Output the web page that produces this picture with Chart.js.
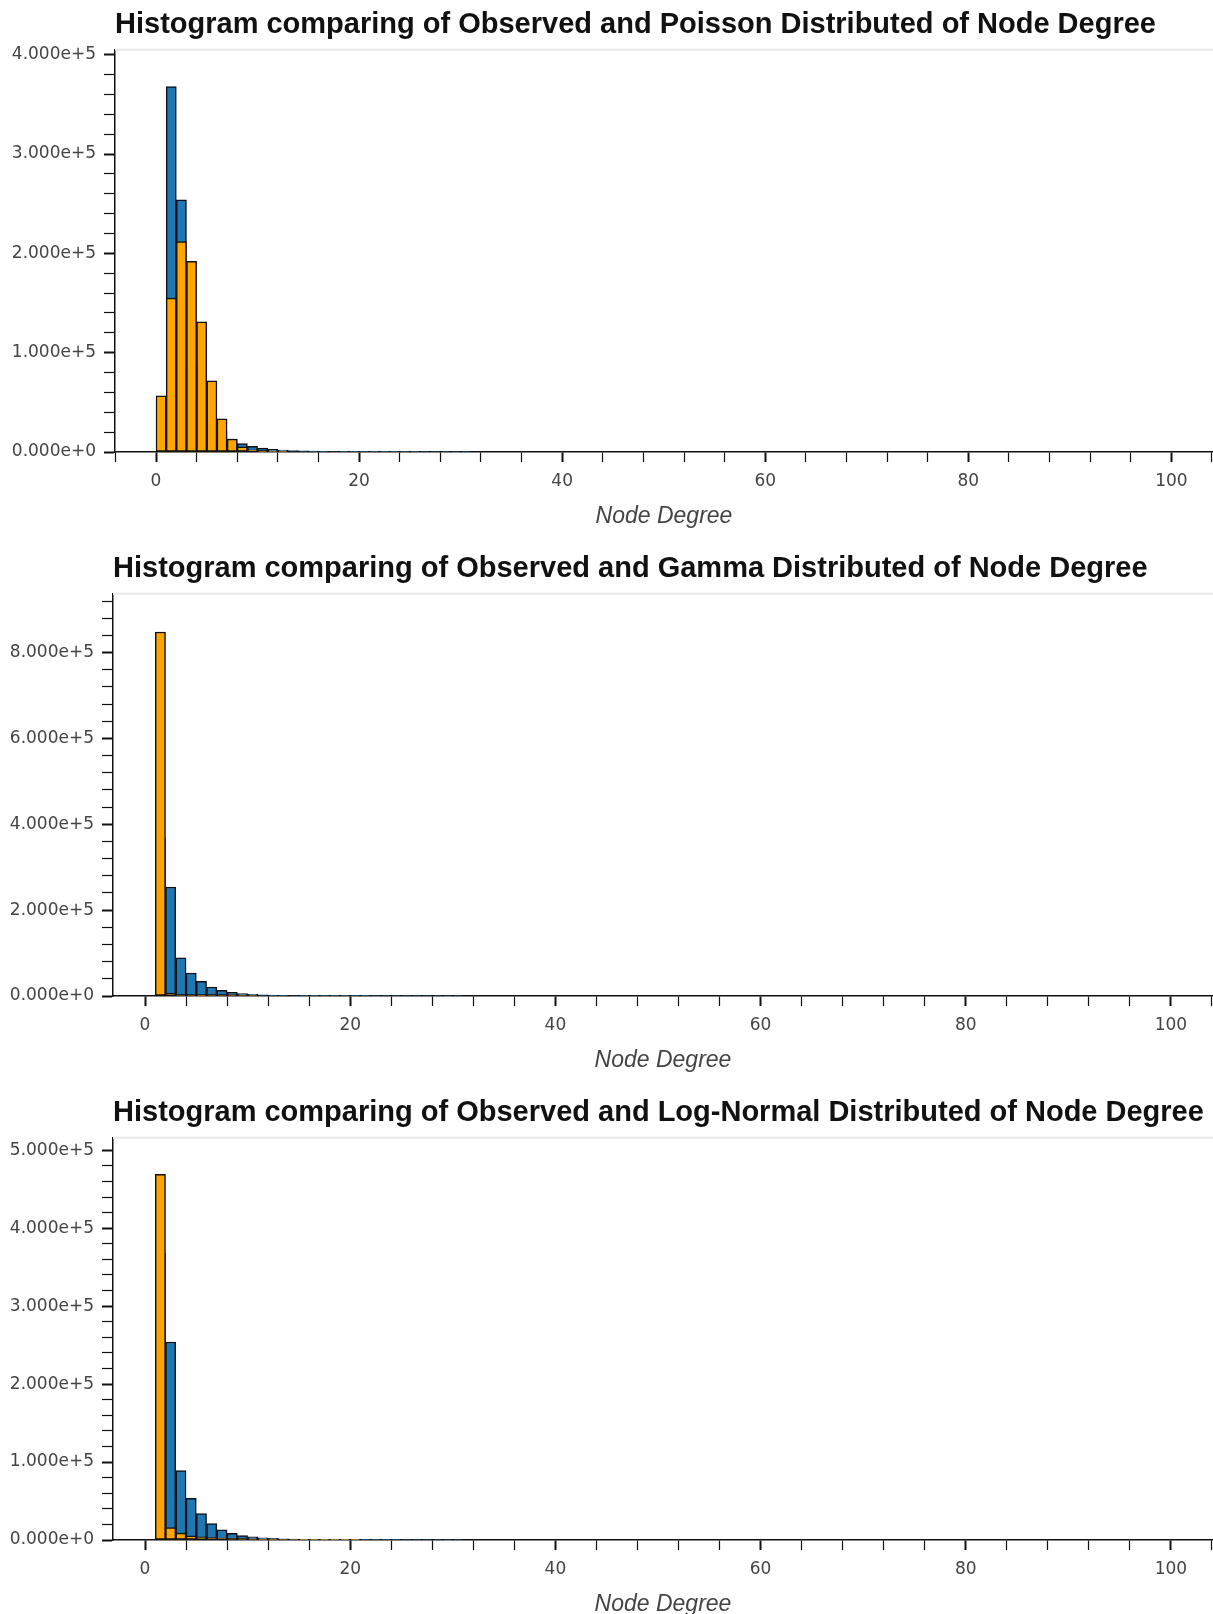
<!DOCTYPE html>
<html>
<head>
<meta charset="utf-8">
<title>Node Degree histograms</title>
<script src="https://cdn.jsdelivr.net/npm/chart.js@4.4.1/dist/chart.umd.min.js"></script>
<style>
  html, body { margin: 0; padding: 0; background: #fff; }
  body { width: 1213px; height: 1614px; overflow: hidden; }
  .panel { position: relative; width: 1213px; height: 544px; }
</style>
</head>
<body>
<div class="panel"><canvas id="poissonChart"></canvas></div>
<div class="panel"><canvas id="gammaChart"></canvas></div>
<div class="panel"><canvas id="lognormChart"></canvas></div>
<script>
// observed node degree histogram (bins of width 1, left edge = degree)
const observedDegree = [1, 2, 3, 4, 5, 6, 7, 8, 9, 10, 11, 12, 13, 14, 15, 16, 17, 18, 19, 20,
  21, 22, 23, 24, 25, 26, 27, 28, 29, 30];
const observedCount = [368000, 254000, 89000, 53500, 34000, 21000, 13000, 8500, 5800, 4000,
  2800, 2000, 1500, 1100, 850, 650, 500, 400, 320, 260,
  210, 170, 140, 120, 100, 85, 70, 60, 50, 40];

// fitted distributions
const poissonDegree = [0, 1, 2, 3, 4, 5, 6, 7, 8, 9, 10, 11, 12];
const poissonCount = [56500, 155000, 212000, 192000, 131000, 71600, 33300, 13100, 5300, 2300, 900, 300, 100];

const gammaDegree = [1, 2, 3, 4, 5, 6, 7, 8, 9, 10];
const gammaCount = [848000, 7000, 2500, 1000, 450, 200, 100, 50, 25, 10];

const lognormDegree = [1, 2, 3, 4, 5, 6, 7, 8, 9, 10, 11, 12, 13, 14, 15, 16, 17, 18, 19, 20];
const lognormCount = [469000, 16000, 9000, 5500, 4200, 3200, 2500, 2000, 1600, 1300,
  1050, 850, 700, 580, 480, 400, 330, 280, 240, 200];

// tick labels
const xTickLabels = [0, 20, 40, 60, 80, 100];
const poissonYTicks = [0, 100000, 200000, 300000, 400000];
const gammaYTicks = [0, 200000, 400000, 600000, 800000];
const lognormYTicks = [0, 100000, 200000, 300000, 400000, 500000];

function toPoints(degrees, counts) {
  return degrees.map((d, i) => ({ x: d + 0.5, y: counts[i] }));
}

function isMajor(list, v) {
  return list.some((t) => Math.abs(t - v) < 1e-6 * Math.max(1, Math.abs(t)));
}

// light frame line on top of the plot area
const frameLine = {
  id: 'frameLine',
  beforeDatasetsDraw(chart) {
    const { ctx, chartArea } = chart;
    ctx.save();
    ctx.strokeStyle = '#e8e8e8';
    ctx.lineWidth = 2;
    ctx.beginPath();
    ctx.moveTo(chartArea.left, chartArea.top);
    ctx.lineTo(chartArea.right, chartArea.top);
    ctx.stroke();
    ctx.restore();
  }
};

function makeChart(id, title, fitDegree, fitCount, yTicks, opts) {
  const ctx = document.getElementById(id).getContext('2d');
  return new Chart(ctx, {
    type: 'bar',
    data: {
      datasets: [
        {
          label: 'Observed',
          data: toPoints(observedDegree, observedCount),
          backgroundColor: '#1f77b4',
          borderColor: '#111',
          borderWidth: 1.5,
          borderSkipped: false,
          barPercentage: 1,
          categoryPercentage: 1,
          grouped: false,
          order: 2
        },
        {
          label: 'Fitted',
          data: toPoints(fitDegree, fitCount),
          backgroundColor: '#ffa500',
          borderColor: '#111',
          borderWidth: 1.5,
          borderSkipped: false,
          barPercentage: 1,
          categoryPercentage: 1,
          grouped: false,
          order: 1
        }
      ]
    },
    options: {
      responsive: true,
      maintainAspectRatio: false,
      animation: false,
      layout: { padding: 0 },
      plugins: {
        legend: { display: false },
        tooltip: { enabled: false },
        title: {
          display: true,
          text: title,
          align: 'start',
          fullSize: false,
          color: '#111',
          font: { family: 'Liberation Sans', size: 29, weight: 'bold' },
          padding: { top: 8, bottom: 7 }
        }
      },
      scales: {
        x: {
          type: 'linear',
          min: opts.xMin,
          max: 104.1,
          offset: false,
          afterFit: (s) => { s.height = 92; s.paddingLeft = 0; s.paddingRight = 0; },
          grid: {
            offset: false,
            drawOnChartArea: false,
            drawTicks: true,
            tickLength: 10,
            tickColor: '#111',
            tickWidth: (c) => (c.tick && isMajor(xTickLabels, c.tick.value)) ? 2 : 1.2
          },
          border: { display: true, color: '#111', width: 1.5 },
          ticks: {
            stepSize: 4,
            autoSkip: false,
            includeBounds: false,
            maxRotation: 0,
            padding: 9,
            color: '#444',
            font: { family: 'DejaVu Sans', size: 17 },
            callback: (v) => isMajor(xTickLabels, v) ? String(Math.round(v)) : ''
          },
          title: {
            display: true,
            text: 'Node Degree',
            color: '#444',
            font: { family: 'Liberation Sans', size: 23, style: 'italic' },
            padding: { top: 0, bottom: 14 }
          }
        },
        y: {
          min: 0,
          max: opts.yMax,
          afterFit: (s) => { s.width = opts.left; },
          // minor ticks every yMinor, labels only on the major ones
          afterBuildTicks: (s) => {
            const ticks = [];
            for (let v = 0; v <= opts.yMax; v += opts.yMinor) ticks.push({ value: v });
            s.ticks = ticks;
          },
          grid: {
            drawOnChartArea: false,
            drawTicks: true,
            tickLength: 11,
            tickColor: '#111',
            tickWidth: (c) => (c.tick && isMajor(yTicks, c.tick.value)) ? 2 : 1.2
          },
          border: { display: true, color: '#111', width: 1.5 },
          ticks: {
            autoSkip: false,
            padding: 8,
            color: '#444',
            font: { family: 'DejaVu Sans', size: 17 },
            callback: (v) => isMajor(yTicks, v) ? Number(v).toExponential(3) : ''
          }
        }
      }
    },
    plugins: [frameLine]
  });
}

makeChart('poissonChart',
  'Histogram comparing of Observed and Poisson Distributed of Node Degree',
  poissonDegree, poissonCount, poissonYTicks,
  { left: 115, xMin: -4.04, yMax: 405000, yMinor: 20000 });

makeChart('gammaChart',
  'Histogram comparing of Observed and Gamma Distributed of Node Degree',
  gammaDegree, gammaCount, gammaYTicks,
  { left: 113, xMin: -3.12, yMax: 937000, yMinor: 40000 });

makeChart('lognormChart',
  'Histogram comparing of Observed and Log-Normal Distributed of Node Degree',
  lognormDegree, lognormCount, lognormYTicks,
  { left: 113, xMin: -3.12, yMax: 516000, yMinor: 20000 });
</script>
</body>
</html>
